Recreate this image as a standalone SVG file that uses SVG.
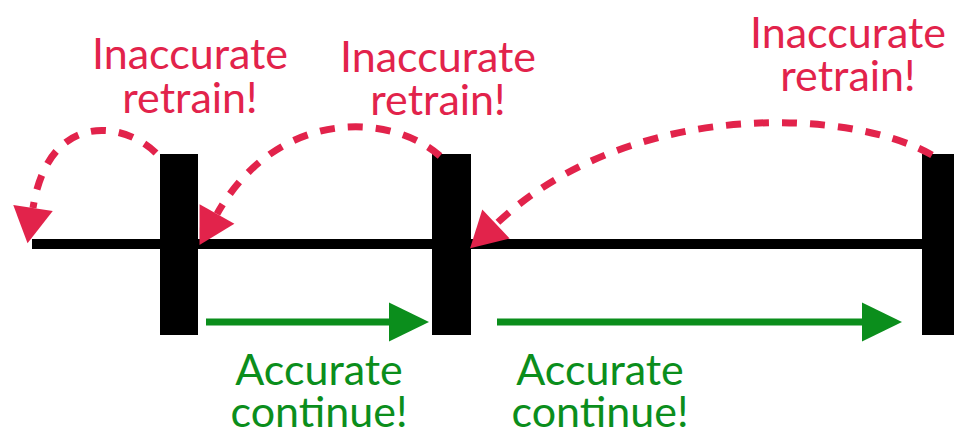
<svg xmlns="http://www.w3.org/2000/svg" width="954" height="433" viewBox="0 0 954 433">
<style>
.red{fill:#e2234b;font-family:Lato,"Open Sans",sans-serif;font-size:43px;text-anchor:middle}
.green{fill:#0b8e1c;font-family:Lato,"Open Sans",sans-serif;font-size:43px;text-anchor:middle}
.bar{fill:#000}
.dash{fill:none;stroke:#e2234b;stroke-width:7;stroke-dasharray:15 13}
.garrow{fill:none;stroke:#0b8e1c;stroke-width:7}
</style>
<defs>
<marker id="rh" markerUnits="userSpaceOnUse" markerWidth="40" markerHeight="40" viewBox="0 0 32 36" refX="0" refY="18" orient="auto">
<path d="M0,0 L32,18 L0,36 z" fill="#e2234b"/>
</marker>
<marker id="gh" markerUnits="userSpaceOnUse" markerWidth="40" markerHeight="40" viewBox="0 0 35 34" refX="0" refY="17" orient="auto">
<path d="M0,0 L35,17 L0,34 z" fill="#0b8e1c"/>
</marker>
</defs>
<g id="timeline">
<rect x="32" y="239" width="900" height="10" class="bar"/>
</g>
<g id="bar1"><rect x="160" y="154" width="38" height="181" class="bar"/></g>
<g id="bar2"><rect x="432" y="154" width="39" height="181" class="bar"/></g>
<g id="bar3"><rect x="922" y="154" width="40" height="181" class="bar"/></g>
<g id="connectors">
<path d="M156,153 C122,120 48,112 33,208" class="dash" marker-end="url(#rh)"/>
<path d="M440,156 C390,112 277,108 217,214" class="dash" marker-end="url(#rh)"/>
<path d="M932,155 C850,108 630,98 496,224" class="dash" marker-end="url(#rh)"/>
<path d="M206,322 L389,322" class="garrow" marker-end="url(#gh)"/>
<path d="M497,322 L862,322" class="garrow" marker-end="url(#gh)"/>
</g>
<g id="label1"><text class="red" x="190" y="69">Inaccurate</text><text class="red" x="190" y="113">retrain!</text></g>
<g id="label2"><text class="red" x="438" y="72">Inaccurate</text><text class="red" x="438" y="115">retrain!</text></g>
<g id="label3"><text class="red" x="848" y="48">Inaccurate</text><text class="red" x="848" y="91">retrain!</text></g>
<g id="label4"><text class="green" x="319" y="385">Accurate</text><text class="green" x="319" y="427">continue!</text></g>
<g id="label5"><text class="green" x="600" y="385">Accurate</text><text class="green" x="600" y="427">continue!</text></g>
</svg>
